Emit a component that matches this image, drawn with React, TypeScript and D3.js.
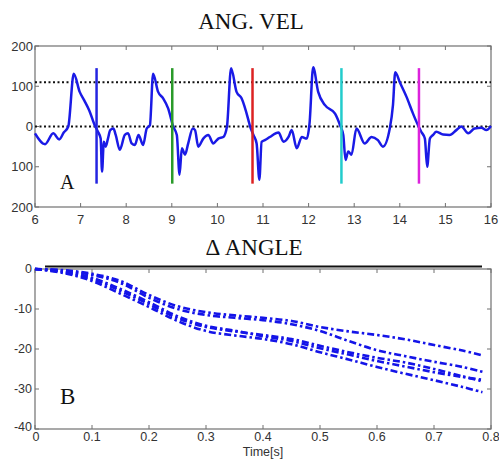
import React from "react";
import * as d3 from "d3";

// ---------- Panel A data ----------
const velTime = [6.0, 6.22, 6.4, 6.53, 6.63, 6.73, 6.85, 6.98, 7.08, 7.19, 7.31, 7.38, 7.44, 7.47, 7.51, 7.55, 7.6, 7.65, 7.72, 7.77, 7.86, 7.97, 8.04, 8.12, 8.19, 8.27, 8.37, 8.45, 8.52, 8.59, 8.7, 8.81, 8.92, 9.03, 9.11, 9.17, 9.22, 9.29, 9.36, 9.46, 9.51, 9.58, 9.69, 9.8, 9.91, 10.02, 10.13, 10.21, 10.3, 10.42, 10.53, 10.68, 10.71, 10.79, 10.86, 10.92, 10.97, 11.04, 11.15, 11.34, 11.45, 11.56, 11.63, 11.74, 11.85, 11.96, 12.02, 12.1, 12.21, 12.36, 12.58, 12.69, 12.76, 12.81, 12.87, 12.94, 13.05, 13.23, 13.38, 13.52, 13.63, 13.78, 13.85, 13.9, 14.0, 14.15, 14.29, 14.4, 14.47, 14.55, 14.6, 14.66, 14.73, 14.8, 14.95, 15.09, 15.24, 15.35, 15.5, 15.64, 15.79, 15.9, 16.0];
const velValue = [-17, -44, -17, -32, -15, 0, 131, 86, 65, 40, 3, -13, -30, -112, -38, -50, -30, -9, -5, -21, -58, -21, -17, -42, -46, -21, -46, -5, 3, 131, 86, 70, 45, 0, -21, -120, -54, -70, -42, -5, -9, -50, -30, -21, -42, -30, -26, 0, 145, 86, 70, 16, 3, -21, -42, -132, -38, -34, -26, -15, -38, -26, -9, -54, -26, -30, 7, 147, 86, 53, 32, 3, -21, -83, -62, -70, -5, -42, -26, -34, -50, -5, 53, 135, 110, 73, 32, 3, -13, -30, -100, -30, -21, -13, -20, -21, -9, 0, -17, -5, -3, -9, 1];
const markerTimes = [7.35, 9.01, 10.77, 12.72, 14.42];
const markerColors = ["#2424e0", "#2a9a2a", "#dc2222", "#22cccc", "#dc22dc"];
const thresholdValues = [110, 0];
const velXTicks = [6, 7, 8, 9, 10, 11, 12, 13, 14, 15, 16];
const velYTicks = [200, 100, 0, -100, -200];
const velYTickLabels = ["200", "100", "0", "100", "200"];

// ---------- Panel B data ----------
const angTime = [0, 0.05, 0.1, 0.15, 0.2, 0.25, 0.3, 0.35, 0.4, 0.45, 0.5, 0.55, 0.6, 0.65, 0.7, 0.75, 0.785];
const angCurve1 = [0, -0.3, -1.2, -3, -6.5, -9.3, -10.8, -11.6, -12.2, -13, -14.5, -15.6, -16.5, -17.6, -19, -20.4, -21.6];
const angCurve2 = [0, -0.4, -1.5, -3.5, -7.2, -10, -11.5, -12.2, -12.8, -13.8, -15.5, -18, -20.3, -21.8, -23.2, -24.5, -25.7];
const angCurve3 = [0, -0.8, -2.5, -5.5, -8.8, -12.3, -14.5, -15.6, -16.5, -17.5, -19.2, -20.8, -22.2, -23.4, -25, -26.8, -28.1];
const angCurve4 = [0, -0.6, -2.2, -5, -8.3, -11.8, -14.2, -15.4, -16.8, -18, -19.8, -21.4, -23, -24.4, -25.8, -27, -27.7];
const angCurve5 = [0, -1, -3, -6.2, -9.5, -13, -15.5, -16.6, -17.5, -18.8, -20.8, -22.6, -24.5, -26.2, -27.8, -29.5, -30.8];
const angXTicks = [0, 0.1, 0.2, 0.3, 0.4, 0.5, 0.6, 0.7, 0.8];
const angYTicks = [0, -10, -20, -30, -40];

const AXIS = "#707070";
const LABEL = "#333";
const SANS = "'Liberation Sans', Arial, sans-serif";
const SERIF = "'Liberation Serif', 'Times New Roman', serif";

export default function App() {
  const W = 499, H = 465;
  const left = 35, right = 491;

  // Panel A scales
  const xA = d3.scaleLinear().domain([6, 16]).range([left, right]);
  const yA = d3.scaleLinear().domain([-200, 200]).range([207, 46]);
  const lineA = d3.line<number>().x((_, i) => xA(velTime[i])).y((d) => yA(d)).curve(d3.curveMonotoneX);

  // Panel B scales
  const xB = d3.scaleLinear().domain([0, 0.8]).range([left, right]);
  const yB = d3.scaleLinear().domain([-40, 0]).range([429, 269]);
  const lineB = d3.line<number>().x((_, i) => xB(angTime[i])).y((d) => yB(d)).curve(d3.curveCatmullRom);
  const curves = [angCurve1, angCurve2, angCurve3, angCurve4, angCurve5];

  const tk = 4;

  return (
    <svg width={W} height={H} style={{ position: "absolute", left: 0, top: 0, background: "#fff" }}>
      {/* ---------- Panel A ---------- */}
      <text x={251} y={29} textAnchor="middle" fontFamily={SERIF} fontSize={23} fill="#111">ANG. VEL</text>
      <rect x={left} y={46} width={right - left} height={161} fill="none" stroke={AXIS} strokeWidth={1.2} />
      {velXTicks.map((t) => (
        <g key={"xa" + t}>
          <line x1={xA(t)} x2={xA(t)} y1={207} y2={207 - tk} stroke={AXIS} />
          <line x1={xA(t)} x2={xA(t)} y1={46} y2={46 + tk} stroke={AXIS} />
          <text x={xA(t)} y={224} textAnchor="middle" fontFamily={SANS} fontSize={13} fill={LABEL}>{t}</text>
        </g>
      ))}
      {velYTicks.map((v, i) => (
        <g key={"ya" + v}>
          <line x1={left} x2={left + tk} y1={yA(v)} y2={yA(v)} stroke={AXIS} />
          <line x1={right} x2={right - tk} y1={yA(v)} y2={yA(v)} stroke={AXIS} />
          <text x={33} y={yA(v)} dy="0.35em" textAnchor="end" fontFamily={SANS} fontSize={13} fill={LABEL}>{velYTickLabels[i]}</text>
        </g>
      ))}
      {thresholdValues.map((v) => (
        <line key={"th" + v} x1={left} x2={right} y1={yA(v)} y2={yA(v)} stroke="#111" strokeWidth={2} strokeDasharray="2,2.5" />
      ))}
      <path d={lineA(velValue) || ""} fill="none" stroke="#1a1ae6" strokeWidth={2.5} strokeLinejoin="round" />
      {markerTimes.map((t, i) => (
        <line key={"m" + t} x1={xA(t)} x2={xA(t)} y1={yA(145)} y2={yA(-142)} stroke={markerColors[i]} strokeWidth={2.5} />
      ))}
      <text x={60} y={189} fontFamily={SERIF} fontSize={20} fill="#111">A</text>

      {/* ---------- Panel B ---------- */}
      <text x={254} y={255} textAnchor="middle" fontFamily={SERIF} fontSize={23} fill="#111">Δ ANGLE</text>
      <rect x={left} y={269} width={right - left} height={160} fill="none" stroke={AXIS} strokeWidth={1.2} />
      {angXTicks.map((t) => (
        <g key={"xb" + t}>
          <line x1={xB(t)} x2={xB(t)} y1={429} y2={429 - tk} stroke={AXIS} />
          <line x1={xB(t)} x2={xB(t)} y1={269} y2={269 + tk} stroke={AXIS} />
          <text x={t === 0 ? xB(t) + 1 : xB(t)} y={441} textAnchor="middle" fontFamily={SANS} fontSize={12.5} fill={LABEL}>{t}</text>
        </g>
      ))}
      {angYTicks.map((v) => (
        <g key={"yb" + v}>
          <line x1={left} x2={left + tk} y1={yB(v)} y2={yB(v)} stroke={AXIS} />
          <line x1={right} x2={right - tk} y1={yB(v)} y2={yB(v)} stroke={AXIS} />
          <text x={32} y={v === -40 ? yB(v) - 2 : yB(v)} dy="0.35em" textAnchor="end" fontFamily={SANS} fontSize={12.5} fill={LABEL}>{v}</text>
        </g>
      ))}
      <line x1={45} x2={482} y1={266.5} y2={266.5} stroke="#111" strokeWidth={2} />
      {curves.map((c, i) => (
        <path key={"c" + i} d={lineB(c) || ""} fill="none" stroke="#1414e8" strokeWidth={2.6} strokeDasharray="7,3,2.5,3" />
      ))}
      <text x={263} y={456} textAnchor="middle" fontFamily={SANS} fontSize={12.5} fill={LABEL}>Time[s]</text>
      <text x={60} y={404} fontFamily={SERIF} fontSize={23} fill="#111">B</text>
    </svg>
  );
}
